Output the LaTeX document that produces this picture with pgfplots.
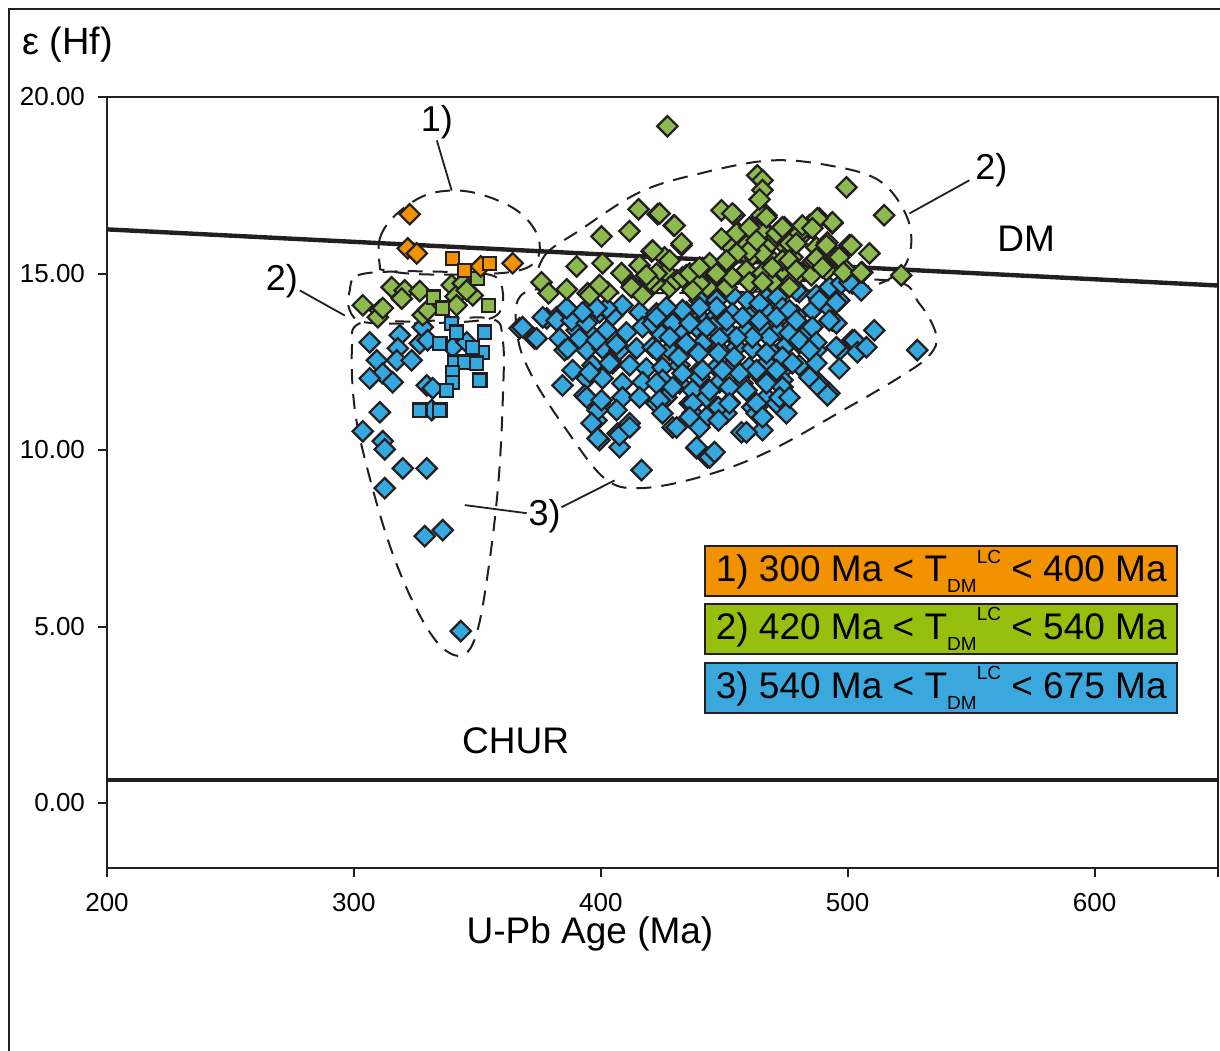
\documentclass[border=0pt]{standalone}
\usepackage{fontspec}
\setmainfont{Liberation Sans}
\usepackage{pgfplots}
\pgfplotsset{compat=1.18}

\definecolor{mkorange}{HTML}{F39200}
\definecolor{mkgreen}{HTML}{8DBA4E}
\definecolor{mkblue}{HTML}{35A8DF}
\definecolor{lgorange}{HTML}{F39200}
\definecolor{lggreen}{HTML}{97BF0D}
\definecolor{lgblue}{HTML}{3AA8DC}
\definecolor{edge}{HTML}{231F20}

\pgfplotsset{
  dia/.style={only marks, mark=square*, mark size=3.6pt,
    mark options={rotate=45, draw=edge, line width=1.1pt, fill=#1}},
  sq/.style={only marks, mark=square*, mark size=3.3pt,
    mark options={draw=edge, line width=1.1pt, fill=#1}},
}
\tikzset{zone/.style={edge, line width=1pt, dash pattern=on 7.5pt off 5pt}}
\newcommand{\tdm}{\raisebox{-0.55ex}{\fontsize{9.5}{10}\selectfont DM}\raisebox{0.95ex}{\fontsize{9.5}{10}\selectfont LC}}

\begin{document}
\begin{tikzpicture}
\useasboundingbox (0pt,0pt) rectangle (610pt,525pt);
\draw[line width=1.3pt, edge] (4.5pt,-2pt) -- (4.5pt,520.5pt) -- (612pt,520.5pt);

\begin{axis}[
  at={(53.5pt,91pt)}, anchor=south west,
  scale only axis, width=555.5pt, height=385.5pt,
  xmin=200, xmax=650, ymin=-1.84, ymax=20,
  axis line style={line width=1pt, edge},
  xtick={200,300,400,500,600}, ytick={0,5,10,15,20},
  extra x ticks={650}, extra x tick labels={{}},
  tick align=outside, xtick pos=bottom, ytick pos=left,
  major tick length=4.5pt, tick style={line width=1pt, edge},
  scaled ticks=false,
  /pgf/number format/assume math mode=true,
  y tick label style={/pgf/number format/.cd, fixed, fixed zerofill, precision=2, /tikz/.cd, xshift=-3pt},
  x tick label style={yshift=-4.5pt},
  tick label style={font=\fontsize{13}{15}\selectfont},
]

% reference lines
\addplot[edge, line width=2.2pt] coordinates {(200,16.25) (650,14.66)};
\addplot[edge, line width=2.2pt] coordinates {(200,0.65) (650,0.65)};

% dashed zones
\draw[zone] plot[smooth cycle, tension=0.6] coordinates {(310.5,15.23) (310.5,15.99) (316.6,16.64) (328.7,17.21) (342.1,17.35) (355.0,17.16) (367.1,16.73) (374.4,16.08) (374.4,15.43) (367.1,15.09) (350.9,14.98) (326.7,14.98) (312.5,15.09)};
\draw[zone] plot[smooth cycle, tension=0.6] coordinates {(298.3,14.52) (301.6,14.95) (318.6,15.06) (342.9,15.03) (357.0,14.92) (360.3,14.47) (359.0,13.90) (350.9,13.67) (326.7,13.59) (304.4,13.62) (298.3,13.96)};
\draw[zone] plot[smooth cycle, tension=0.6] coordinates {(302.4,13.59) (326.7,13.64) (355.0,13.73) (360.3,13.11) (360.3,11.41) (358.6,9.14) (355.0,6.88) (350.1,4.90) (344.1,4.19) (334.8,4.47) (324.6,5.60) (314.5,7.30) (305.6,9.43) (300.4,11.13) (299.2,12.83)};
\draw[zone] plot[smooth cycle, tension=0.6] coordinates {(375.2,14.66) (377.3,15.51) (391.4,16.22) (415.7,17.30) (440.0,17.83) (468.3,18.20) (492.6,18.06) (512.8,17.63) (523.8,16.64) (525.4,15.65) (519.0,14.94) (500.7,14.58) (440.0,14.46) (391.4,14.46)};
\draw[zone] plot[smooth cycle, tension=0.6] coordinates {(369.2,14.46) (399.5,14.52) (460.2,14.72) (516.9,14.80) (529.0,14.15) (535.9,13.25) (533.1,12.68) (522.1,12.11) (499.5,11.18) (467.1,9.93) (440.0,9.23) (415.7,8.92) (401.5,9.20) (386.2,10.56) (372.4,12.06) (366.3,13.25)};

% leaders
\draw[edge, line width=0.9pt] (333.6,18.77) -- (339.6,17.35);
\draw[edge, line width=0.9pt] (549.3,17.64) -- (525.0,16.70);
\draw[edge, line width=0.9pt] (278.1,14.52) -- (296.3,13.81);
\draw[edge, line width=0.9pt] (370.0,8.21) -- (344.9,8.44);
\draw[edge, line width=0.9pt] (384.1,8.38) -- (405.6,9.14);

% group 3 (blue)
\addplot[dia=mkblue] coordinates {
(306.4,13.05) (309.3,12.54) (311.7,12.17) (306.4,12.03) (315.7,11.92) (318.6,13.25)
(317.8,12.88) (317.4,12.54) (323.4,12.54) (326.7,13.02) (327.9,13.48) (329.9,13.11)
(329.5,11.83) (331.9,11.75) (340.0,12.91) (345.7,13.05) (331.5,11.13) (310.5,11.07)
(303.6,10.53) (311.7,10.25) (312.5,10.02) (319.8,9.48) (329.5,9.48) (312.5,8.92)
(328.7,7.56) (336.0,7.73) (343.3,4.87)
(440.0,14.24) (446.9,14.24) (453.3,14.38) (459.4,14.24) (467.1,14.30) (471.6,14.32)
(480.4,14.47) (487.3,14.38) (492.6,14.61) (496.6,14.24) (501.9,14.72)
(378.1,13.73) (382.1,13.76) (388.2,13.87) (394.3,13.96) (399.5,13.90) (404.8,13.81)
(408.8,14.10) (415.7,13.90) (422.6,13.87) (429.1,13.76) (434.7,13.90) (440.0,13.76)
(446.9,13.81) (453.3,13.87) (460.2,13.76) (467.1,13.96) (473.6,14.02) (479.2,13.81)
(485.7,13.96) (492.6,14.02) (493.8,13.67)
(367.1,13.45) (373.2,13.16) (383.3,13.16) (390.2,13.39) (395.5,13.31) (402.4,13.39)
(410.4,13.33) (416.9,13.48) (423.8,13.33) (431.9,13.39) (438.8,13.48) (445.3,13.48)
(452.1,13.33) (459.0,13.39) (465.5,13.48) (472.4,13.39) (477.6,13.53) (484.5,13.39)
(495.4,13.59) (501.9,13.11)
(385.4,12.83) (394.3,12.83) (400.7,12.88) (407.6,12.83) (414.5,12.88) (421.0,12.91)
(427.9,12.83) (434.7,12.91) (441.2,12.88) (448.1,12.83) (455.0,12.91) (461.4,12.88)
(468.3,12.83) (475.2,12.97) (480.4,13.02) (487.3,12.83) (496.6,12.83)
(388.6,12.26) (396.7,12.40) (404.8,12.46) (411.7,12.40) (418.5,12.31) (425.0,12.34)
(431.9,12.40) (440.0,12.26) (446.9,12.34) (453.3,12.40) (460.2,12.34) (467.1,12.46)
(473.6,12.26) (480.4,12.40) (487.3,12.46) (496.6,12.31)
(384.5,11.83) (394.3,12.03) (400.7,12.03) (408.8,11.89) (416.9,11.92) (425.0,11.98)
(431.9,11.89) (440.0,12.06) (448.1,11.92) (457.4,11.89) (465.5,12.03) (473.6,11.98)
(488.5,11.89) (484.5,12.06)
(393.4,11.55) (399.5,11.32) (408.8,11.49) (415.7,11.49) (422.6,11.32) (426.6,11.49)
(436.0,11.32) (442.8,11.49) (452.1,11.35) (461.4,11.21) (467.1,11.49) (473.6,11.55)
(492.6,11.61) (488.5,11.78)
(398.3,10.84) (406.4,11.13) (411.7,10.76) (429.1,10.64) (437.2,11.04) (442.8,10.93)
(450.9,11.04) (457.0,10.50) (463.1,11.04) (465.5,10.56) (471.2,11.32)
(399.5,10.28) (406.8,10.47) (407.6,10.08) (438.8,10.05) (443.2,9.79) (416.5,9.43)
(368.3,13.48) (374.0,13.16) (376.5,13.76) (386.6,12.88) (382.1,13.67) (388.2,13.67)
(394.3,13.59) (395.5,12.20) (394.3,11.49) (398.7,11.13) (396.3,10.76) (398.7,10.33)
(407.6,10.42) (411.7,10.64) (400.3,11.41) (403.6,12.46) (391.4,13.16) (398.3,13.11)
(402.4,14.02) (398.3,14.02) (392.6,13.90) (386.2,14.02) (406.4,12.99) (421.0,13.59)
(422.6,12.83)
(479.2,14.52) (464.3,14.15) (446.9,14.04) (440.0,14.04) (433.1,13.96) (426.6,14.04)
(422.6,13.76) (429.1,13.59) (436.0,13.59) (442.8,13.48) (450.9,13.67) (457.4,13.76)
(464.3,13.67) (471.2,13.76) (476.4,13.96) (476.4,13.31) (468.3,13.19) (461.4,13.19)
(455.0,13.19) (448.1,13.16) (441.2,13.02) (434.7,13.02) (427.9,13.19) (431.5,12.63)
(439.6,12.74) (447.7,12.74) (454.1,12.63) (467.1,12.74) (473.6,12.63) (477.6,12.46)
(471.2,12.26) (463.1,12.26) (456.2,12.17) (449.3,12.26) (441.2,12.26) (433.1,12.17)
(422.6,11.89) (429.1,11.78) (437.2,11.69) (444.1,11.69) (452.1,11.78) (459.0,11.69)
(467.1,11.89) (473.6,11.78) (423.8,11.41) (425.0,11.04) (437.2,11.32) (447.7,11.21)
(452.1,11.32) (463.1,11.32) (465.5,10.93) (472.4,11.49) (475.2,11.04) (436.0,10.93)
(440.0,10.64) (447.7,10.84) (459.0,10.50) (430.7,10.64) (438.8,10.08) (444.1,9.79)
(446.1,9.94)
(497.4,14.72) (505.5,14.52) (500.7,14.75) (488.5,14.24) (495.4,14.18) (492.6,13.67)
(479.2,13.67) (485.7,13.48) (480.4,13.11) (487.3,13.05) (495.4,12.91) (502.7,13.11)
(503.9,12.77) (507.6,12.91) (510.8,13.39) (528.2,12.83) (484.5,12.83) (491.8,11.55)
(476.4,11.49)
};
\addplot[sq=mkblue] coordinates {
(334.8,13.02) (339.6,13.59) (341.6,13.34) (353.0,13.34) (352.2,12.77) (348.1,12.91)
(340.8,12.49) (344.9,12.49) (349.7,12.46) (340.0,12.20) (340.0,11.92) (351.0,11.98)
(337.6,11.69) (326.7,11.13) (334.8,11.13)
};

% group 2 (green)
\addplot[dia=mkgreen] coordinates {
(315.3,14.61) (320.6,14.52) (319.4,14.29) (326.7,14.50) (339.6,14.67) (344.1,14.72)
(341.2,14.35) (348.1,14.38) (303.6,14.10) (310.5,13.96) (309.7,13.76) (311.7,14.02)
(327.9,13.82) (329.9,13.96) (341.6,14.10) (345.7,14.52)
(427.0,19.17) (463.4,17.78) (465.5,17.64) (465.5,17.36) (499.5,17.44) (415.3,16.82)
(423.0,16.68) (429.5,16.36) (400.3,16.05) (411.6,16.20) (432.7,15.80) (420.6,15.63)
(390.2,15.20) (400.7,15.29) (376.0,14.75) (378.9,14.44) (386.2,14.55) (394.7,14.44)
(402.8,14.47) (408.4,15.01) (415.7,15.23) (412.9,14.67) (417.3,14.44) (425.8,15.46)
(426.6,15.03) (427.8,14.61) (434.7,14.95) (441.2,15.15) (446.9,14.95) (436.7,14.67)
(443.2,14.61) (450.9,14.61) (448.9,16.79) (454.1,16.65) (461.0,16.31) (467.1,16.65)
(455.4,16.17) (450.9,15.88) (459.0,15.80) (465.5,16.28) (473.6,16.31) (468.3,15.85)
(475.2,15.74) (480.4,16.00) (484.5,16.37) (488.5,16.56) (493.8,16.42) (487.3,15.74)
(491.8,15.88) (500.7,15.80) (453.3,15.46) (461.4,15.52) (469.5,15.37) (477.6,15.46)
(485.7,15.32) (495.4,15.46) (459.0,15.09) (465.5,15.01) (473.6,15.09) (480.4,15.01)
(491.4,15.09) (499.5,15.09) (461.4,14.72) (469.5,14.75) (476.4,14.61) (485.3,14.95)
(421.8,14.72) (430.7,14.81) (440.0,14.75)
(514.8,16.65) (521.7,14.95) (508.8,15.57) (501.5,15.80) (505.9,15.03) (493.8,16.45)
(487.7,16.56) (491.4,15.80) (486.5,15.37) (480.4,16.14) (474.4,16.31) (465.5,16.22)
(465.1,16.65) (467.1,15.74) (473.6,15.37)
(423.8,16.70) (429.9,16.36) (432.7,15.85) (421.0,15.65) (422.6,15.00) (455.0,16.14)
(465.5,15.57) (471.2,16.14) (476.4,15.85) (476.4,15.37) (469.5,15.17) (460.2,15.65)
(455.0,15.57) (453.3,14.89) (444.1,15.29) (440.0,14.72) (433.1,14.89) (460.2,14.75)
(465.5,14.75) (419.8,14.81) (437.2,14.52) (464.3,17.10)
(481.7,16.36) (485.7,16.28) (479.2,15.85) (487.3,15.43) (496.6,15.46) (498.3,15.03)
(479.2,15.09) (489.8,15.17) (505.5,15.03)
(418.5,14.95) (412.5,14.61) (416.9,14.38) (395.5,14.38) (399.5,14.67)
(427.9,15.37) (436.0,15.00) (440.0,15.17) (446.9,15.00) (450.9,15.37) (453.3,16.70)
(448.9,15.99) (460.2,16.30) (463.1,15.94) (467.1,16.59) (473.6,16.30)
};
\addplot[sq=mkgreen] coordinates {
(332.3,14.33) (350.1,14.86) (354.6,14.10) (336.0,14.02)
};

% group 1 (orange)
\addplot[dia=mkorange] coordinates {
(322.6,16.68) (321.8,15.71) (325.5,15.57) (351.4,15.20) (364.3,15.29)
};
\addplot[sq=mkorange] coordinates {
(340.0,15.43) (344.9,15.09) (355.0,15.29)
};

% labels
\node[font=\fontsize{18}{20}\selectfont] at (333.6,19.28) {1)};
\node[font=\fontsize{18}{20}\selectfont] at (558.2,17.92) {2)};
\node[font=\fontsize{18}{20}\selectfont] at (270.8,14.78) {2)};
\node[font=\fontsize{18}{20}\selectfont] at (377.3,8.12) {3)};
\node[font=\fontsize{18.5}{20}\selectfont] at (572.3,15.97) {DM};
\node[font=\fontsize{18.5}{20}\selectfont] at (365.5,1.76) {CHUR};

% legend boxes
\node[draw=edge, line width=1pt, fill=lgorange, minimum width=236pt, minimum height=25pt, inner sep=0pt,
  font=\fontsize{18.5}{20}\selectfont] at (537.9,6.57) {1) 300 Ma < T\tdm{} < 400 Ma};
\node[draw=edge, line width=1pt, fill=lggreen, minimum width=236pt, minimum height=25pt, inner sep=0pt,
  font=\fontsize{18.5}{20}\selectfont] at (537.9,4.93) {2) 420 Ma < T\tdm{} < 540 Ma};
\node[draw=edge, line width=1pt, fill=lgblue, minimum width=236pt, minimum height=25pt, inner sep=0pt,
  font=\fontsize{18.5}{20}\selectfont] at (537.9,3.26) {3) 540 Ma < T\tdm{} < 675 Ma};
\end{axis}

\node[anchor=west, inner sep=0pt, font=\fontsize{19}{21}\selectfont] at (11pt,502.5pt) {ε (Hf)};
\node[font=\fontsize{18.5}{20}\selectfont] at (295pt,58pt) {U-Pb Age (Ma)};
\end{tikzpicture}
\end{document}
